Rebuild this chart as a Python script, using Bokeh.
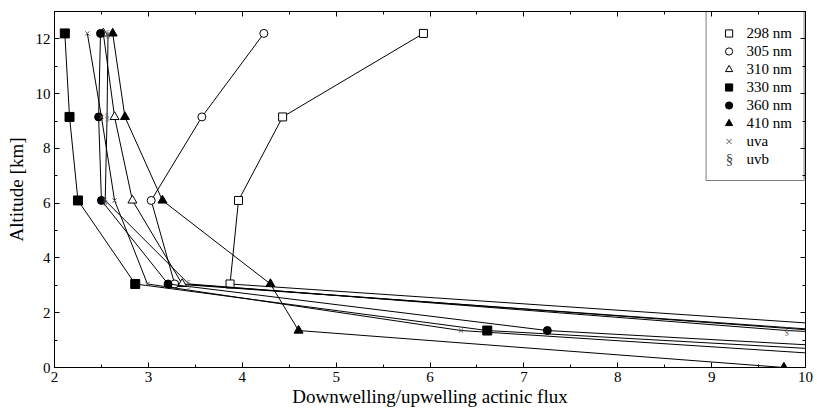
from bokeh.plotting import figure
from bokeh.models import (Range1d, LinearAxis, SingleIntervalTicker, FixedTicker,
                          Legend, LegendItem, ColumnDataSource, Label,
                          CustomJSTickFormatter)
from bokeh.core.properties import value
from bokeh.embed import file_html
from bokeh.resources import INLINE

# Altitude levels [km]
alt_full = [12.2, 9.15, 6.1, 3.05, 1.35, 0.0]
alt_5 = [12.2, 9.15, 6.1, 3.05, 1.35]

# Downwelling/upwelling actinic flux per series (last points lie beyond x=10)
x_298 = [5.93, 4.43, 3.96, 3.87, 11.2]
x_305 = [4.23, 3.57, 3.03, 3.28, 10.25]
x_310 = [2.52, 2.64, 2.83, 3.36, 10.12]
x_330 = [2.11, 2.16, 2.25, 2.86, 6.61, 13.65]
x_360 = [2.49, 2.47, 2.50, 3.21, 7.25, 14.4]
x_410 = [2.62, 2.75, 3.15, 4.30, 4.60, 9.77]
x_uva = [2.35, 2.50, 2.64, 2.99, 6.33, 12.4]
x_uvb = [2.57, 2.56, 2.54, 3.43, 9.80, 18.0]

labels = ["298 nm", "305 nm", "310 nm", "330 nm", "360 nm", "410 nm", "uva", "uvb"]

# right-axis tick positions (0 coincides with the bottom frame)
right_major = [2, 4, 6, 8, 10, 12]
right_minor = [1, 3, 5, 7, 9, 11]

FONT = "Liberation Serif"

p = figure(width=817, height=413, x_range=Range1d(2, 10), y_range=Range1d(0, 13),
           output_backend="svg", toolbar_location=None,
           min_border_left=54, min_border_right=12, min_border_top=11,
           min_border_bottom=46)
p.xgrid.visible = False
p.ygrid.visible = False
p.outline_line_color = "black"
p.outline_line_alpha = 1.0

xt = SingleIntervalTicker(interval=1, num_minor_ticks=2)
yt = SingleIntervalTicker(interval=2, num_minor_ticks=2)

def style_axis(ax, show_labels=True):
    ax.axis_line_color = "black"
    ax.major_tick_line_color = "black"
    ax.minor_tick_line_color = "black"
    ax.major_tick_in = 5
    ax.major_tick_out = 0
    ax.minor_tick_in = 3
    ax.minor_tick_out = 0
    ax.major_label_text_font = FONT
    ax.major_label_text_font_size = "15px"
    ax.major_label_text_color = "black"
    ax.axis_label_text_font = FONT
    ax.axis_label_text_font_size = "19px"
    ax.axis_label_text_font_style = "normal"
    ax.axis_label_text_color = "black"
    if not show_labels:
        ax.formatter = CustomJSTickFormatter(code="return ''")
        ax.major_label_text_font_size = "1px"
        ax.major_label_standoff = 0

p.xaxis.ticker = xt
p.yaxis.ticker = yt
for ax in p.xaxis + p.yaxis:
    style_axis(ax)
p.xaxis.axis_label = "Downwelling/upwelling actinic flux"
p.yaxis.axis_label = "Altitude [km]"
p.xaxis.major_label_standoff = 4
p.xaxis.axis_label_standoff = 1
p.yaxis.major_label_standoff = 4
p.yaxis.axis_label_standoff = 6

top_ax = LinearAxis(ticker=xt)
right_ax = LinearAxis(ticker=FixedTicker(ticks=right_major, minor_ticks=right_minor))
style_axis(top_ax, False)
style_axis(right_ax, False)
p.add_layout(top_ax, "above")
p.add_layout(right_ax, "right")

series = [
    (x_298, alt_5, "square", "white", 8),
    (x_305, alt_5, "circle", "white", 8),
    (x_310, alt_5, "triangle", "white", 9),
    (x_330, alt_full, "square", "black", 9),
    (x_360, alt_full, "circle", "black", 8),
    (x_410, alt_full, "triangle", "black", 9),
    (x_uva, alt_full, "x", "#555555", 6),
]

items = []
for (xs, ys, mk, fill, sz), lab in zip(series, labels[:7]):
    src = ColumnDataSource(dict(x=xs, y=ys))
    p.line("x", "y", source=src, line_color="black", line_width=1)
    lc = "#555555" if mk == "x" else "black"
    r = p.scatter("x", "y", source=src, marker=mk, size=sz, fill_color=fill,
                  line_color=lc, line_width=1)
    items.append(LegendItem(label=lab, renderers=[r]))

src_uvb = ColumnDataSource(dict(x=x_uvb, y=alt_full, t=["§"] * len(x_uvb)))
p.line("x", "y", source=src_uvb, line_color="black", line_width=1)
r_uvb = p.text("x", "y", text="t", source=src_uvb, text_font=value(FONT),
               text_font_size="10px", text_color="#666666",
               text_align="center", text_baseline="middle")
items.append(LegendItem(label=labels[7], renderers=[r_uvb]))

legend = Legend(items=items, location="top_right", margin=0, padding=12,
                spacing=0, glyph_width=20, glyph_height=18, label_height=18,
                label_standoff=8, border_line_color="black", border_line_width=1,
                label_text_font=FONT, label_text_font_size="15px",
                label_text_color="black", background_fill_alpha=0.0)
p.add_layout(legend, "center")

# legend symbol for the "uvb" entry (text glyphs have no legend swatch);
# position in screen pixels relative to the plot frame
uvb_key = Label(x=675, y=209, x_units="screen", y_units="screen", text="§",
                text_font=FONT, text_font_size="15px", text_color="#444444",
                text_align="center", text_baseline="middle")
p.add_layout(uvb_key)

open("out.html", "w").write(file_html(p, INLINE))
